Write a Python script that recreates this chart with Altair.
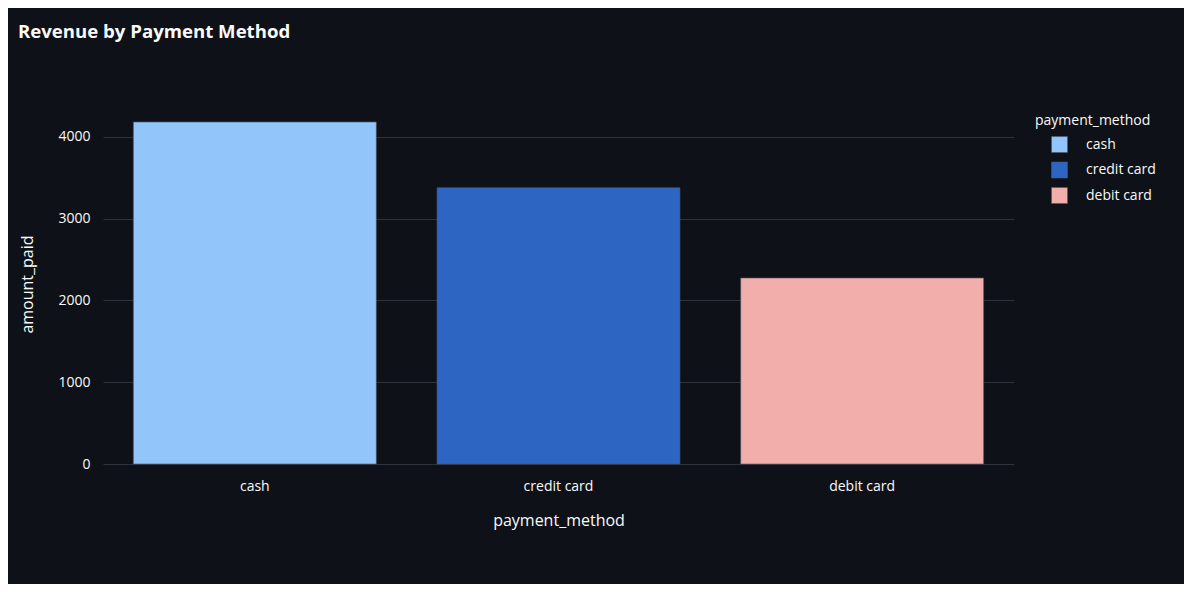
import altair as alt
import pandas as pd

methods = ["cash", "credit card", "debit card"]
amounts = [4183, 3380, 2275]
colors = ["#92c5f9", "#2d66c2", "#f2aeab"]

df = pd.DataFrame({"payment_method": methods, "amount_paid": amounts})

FONT = "Open Sans"
TXT = "#fafafa"

chart = alt.Chart(df).mark_bar(stroke="#4b5568", strokeWidth=0.6).encode(
    x=alt.X("payment_method:N", sort=methods,
            scale=alt.Scale(paddingInner=0.2, paddingOuter=0.1),
            axis=alt.Axis(labelAngle=0, title="payment_method", grid=False,
                          ticks=False, domain=False, labelPadding=15,
                          titlePadding=19, labelFontSize=14, titleFontSize=16,
                          titleFontWeight="normal")),
    y=alt.Y("amount_paid:Q", scale=alt.Scale(domain=[0, 4403], nice=False),
            axis=alt.Axis(values=[0, 1000, 2000, 3000, 4000], format="d",
                          title="amount_paid",
                          ticks=False, domain=False, labelPadding=13,
                          titlePadding=22, labelFontSize=14, titleFontSize=16,
                          titleFontWeight="normal", gridColor="#30333b")),
    color=alt.Color("payment_method:N", sort=methods,
                    scale=alt.Scale(domain=methods, range=colors),
                    legend=alt.Legend(title="payment_method", orient="none",
                                      legendX=932, legendY=10,
                                      symbolType="square", symbolSize=256,
                                      symbolStrokeWidth=0.6, symbolStrokeColor="#4b5568",
                                      symbolOffset=16, labelOffset=18,
                                      rowPadding=6.5, titlePadding=8,
                                      labelFontSize=14, titleFontSize=14,
                                      titleFontWeight="normal", labelColor=TXT,
                                      titleColor=TXT, symbolOpacity=1)),
).properties(
    width=911,
    height=360,
    padding={"left": 95, "top": 96, "right": 170, "bottom": 120},
    autosize=alt.AutoSizeParams(type="none"),
    background="#0e1117",
    title=alt.TitleParams("Revenue by Payment Method", anchor="start", frame="group",
                          dx=-85, dy=-58, fontSize=18.6, fontWeight="bold",
                          color=TXT, font=FONT),
).configure_view(stroke=None).configure_axis(
    labelColor=TXT, titleColor=TXT, labelFont=FONT, titleFont=FONT
).configure_legend(labelFont=FONT, titleFont=FONT)

chart.save("out.html", embed_options={"renderer": "svg", "actions": False})
